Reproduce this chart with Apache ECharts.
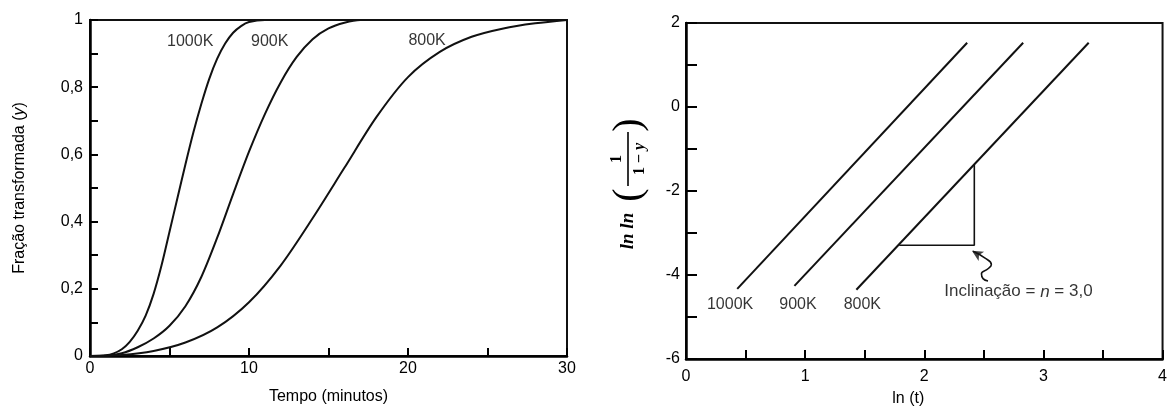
<!DOCTYPE html>
<html>
<head>
<meta charset="utf-8">
<script src="https://cdn.jsdelivr.net/npm/echarts@6/dist/echarts.min.js"></script>
<style>html,body{margin:0;padding:0;background:#fff;}#c{width:1170px;height:412px;}</style>
</head>
<body>
<div id="c"></div>
<script>
// ---- Left chart: fraction transformed vs time ----
var t1000 = [0,1,1.5,2,2.5,3,3.5,4,4.5,5,5.5,6,6.5,7,7.5,8,8.5,9,9.5,10,11,30];
var y1000 = [0,0.002,0.008,0.02,0.042,0.075,0.12,0.185,0.27,0.37,0.47,0.57,0.665,0.75,0.825,0.885,0.93,0.962,0.982,0.994,1.0,1.0];
var t900 = [0,1,2,3,4,5,6,7,8,9,10,11,12,13,14,15,16,17,30];
var y900 = [0,0.001,0.008,0.026,0.052,0.09,0.148,0.235,0.352,0.482,0.608,0.72,0.815,0.89,0.943,0.975,0.992,1.0,1.0];
var t800 = [0,2,4,6,8,10,12,14,16,18,20,22,24,26,28,30];
var y800 = [0,0.003,0.015,0.04,0.085,0.16,0.27,0.41,0.56,0.71,0.83,0.905,0.95,0.975,0.99,1.0];
var leftLabelText = ['1000K','900K','800K'];
var leftLabelT = [6.3, 11.3, 21.2];
var leftLabelY = [0.937, 0.937, 0.94];
var leftXTicks = ['0','10','20','30'];
var leftYTicks = ['0','0,2','0,4','0,6','0,8','1'];

// ---- Right chart: ln ln(1/(1-y)) vs ln t ----
var lnT1000 = [0.43, 2.36], v1000 = [-4.33, 1.53];
var lnT900 = [0.91, 2.83], v900 = [-4.26, 1.53];
var lnT800 = [1.43, 3.38], v800 = [-4.35, 1.53];
var triLnT = [2.42, 2.42, 1.79];
var triV = [-1.38, -3.29, -3.29];
var arrowLnT = [2.535, 2.493, 2.480, 2.535, 2.563, 2.507, 2.409];
var arrowV = [-4.141, -4.087, -3.969, -3.852, -3.748, -3.593, -3.435];
var arrowHead = [2.40, -3.42];
var rightLabelText = ['1000K','900K','800K'];
var rightLabelT = [0.37, 0.94, 1.48];
var rightLabelV = [-4.71, -4.71, -4.71];
var slopeLabelPos = [2.79, -4.40];
var rightXTicks = ['0','1','2','3','4'];
var rightYTicks = ['-6','-4','-2','0','2'];

function pairs(xs, ys){ return xs.map(function(x,i){ return [x, ys[i]]; }); }
function labelsData(txt, xs, ys){ return txt.map(function(t,i){ return {name:t, value:[xs[i], ys[i]]}; }); }

var FONT = '"Liberation Sans", Arial, sans-serif';
var INK = '#000';

function axisCommon(extra){
  var a = {
    type:'value',
    axisLine:{show:true, onZero:false, lineStyle:{color:INK, width:2.5}},
    axisTick:{show:true, inside:true, length:8, lineStyle:{color:INK, width:2}},
    minorTick:{show:true, splitNumber:2, length:8, lineStyle:{color:INK, width:2}},
    splitLine:{show:false},
    minorSplitLine:{show:false},
    axisLabel:{color:INK, fontSize:16, fontFamily:FONT},
    nameTextStyle:{color:INK, fontSize:16, fontFamily:FONT}
  };
  for (var k in extra){
    if (typeof extra[k] === 'object' && a[k] && !Array.isArray(extra[k])) {
      for (var j in extra[k]) a[k][j] = extra[k][j];
    } else a[k] = extra[k];
  }
  return a;
}

var lineStyleCurve = {color:'#111', width:2};

var option = {
  animation:false,
  backgroundColor:'#fff',
  grid:[
    {left:90, top:20, width:477, height:336, show:true, borderColor:'#111', borderWidth:2, containLabel:false},
    {left:686, top:23, width:477, height:339, show:true, borderColor:'#111', borderWidth:2, containLabel:false}
  ],
  xAxis:[
    axisCommon({gridIndex:0, min:0, max:30, interval:10,
      axisLabel:{margin:5, formatter:function(v){ return leftXTicks[Math.round(v/10)]; }},
      name:'Tempo (minutos)', nameLocation:'middle', nameGap:33}),
    axisCommon({gridIndex:1, min:0, max:4, interval:1,
      axisTick:{length:9}, minorTick:{length:9},
      axisLabel:{margin:10, formatter:function(v){ return rightXTicks[Math.round(v)]; }},
      name:'ln (t)', nameLocation:'middle', nameGap:32,
      nameTextStyle:{padding:[0,32,0,0]}})
  ],
  yAxis:[
    axisCommon({gridIndex:0, min:0, max:1, interval:0.2,
      axisLabel:{margin:7, formatter:function(v){ return leftYTicks[Math.round(v*5)]; }},
      name:'Fração transformada ({i|y})', nameLocation:'middle', nameGap:62,
      nameTextStyle:{rich:{i:{fontStyle:'italic', fontSize:16, fontFamily:FONT, color:INK}}}}),
    axisCommon({gridIndex:1, min:-6, max:2, interval:2,
      axisTick:{length:11}, minorTick:{length:11},
      axisLabel:{margin:6, formatter:function(v){ return rightYTicks[Math.round((v+6)/2)]; }}})
  ],
  series:[
    {type:'line', xAxisIndex:0, yAxisIndex:0, data:pairs(t1000,y1000), smooth:0.3, symbol:'none', lineStyle:lineStyleCurve, silent:true},
    {type:'line', xAxisIndex:0, yAxisIndex:0, data:pairs(t900,y900), smooth:0.3, symbol:'none', lineStyle:lineStyleCurve, silent:true},
    {type:'line', xAxisIndex:0, yAxisIndex:0, data:pairs(t800,y800), smooth:0.3, symbol:'none', lineStyle:lineStyleCurve, silent:true},
    {type:'scatter', xAxisIndex:0, yAxisIndex:0, data:labelsData(leftLabelText,leftLabelT,leftLabelY), symbolSize:1,
      itemStyle:{color:'rgba(0,0,0,0)'}, silent:true,
      label:{show:true, position:'inside', formatter:'{b}', color:INK, fontSize:16, fontFamily:FONT}},

    {type:'line', xAxisIndex:1, yAxisIndex:1, data:pairs(lnT1000,v1000), symbol:'none', lineStyle:lineStyleCurve, silent:true},
    {type:'line', xAxisIndex:1, yAxisIndex:1, data:pairs(lnT900,v900), symbol:'none', lineStyle:lineStyleCurve, silent:true},
    {type:'line', xAxisIndex:1, yAxisIndex:1, data:pairs(lnT800,v800), symbol:'none', lineStyle:lineStyleCurve, silent:true},
    {type:'line', xAxisIndex:1, yAxisIndex:1, data:pairs(triLnT,triV), symbol:'none', lineStyle:{color:'#111', width:1.6}, silent:true},
    {type:'line', xAxisIndex:1, yAxisIndex:1, data:pairs(arrowLnT,arrowV), symbol:'none', smooth:0.5, lineStyle:{color:'#111', width:1.6}, silent:true},
    {type:'scatter', xAxisIndex:1, yAxisIndex:1, data:[arrowHead], symbol:'arrow', symbolSize:[8,11], symbolRotate:59,
      itemStyle:{color:'#111'}, silent:true},
    {type:'scatter', xAxisIndex:1, yAxisIndex:1, data:labelsData(rightLabelText,rightLabelT,rightLabelV), symbolSize:1,
      itemStyle:{color:'rgba(0,0,0,0)'}, silent:true,
      label:{show:true, position:'inside', formatter:'{b}', color:INK, fontSize:16, fontFamily:FONT}},
    {type:'scatter', xAxisIndex:1, yAxisIndex:1, data:[{name:'slope', value:slopeLabelPos}], symbolSize:1,
      itemStyle:{color:'rgba(0,0,0,0)'}, silent:true,
      label:{show:true, position:'inside', formatter:'Inclinação = {i|n} = 3,0', color:INK, fontSize:17, fontFamily:FONT,
        rich:{i:{fontStyle:'italic', fontSize:17, fontFamily:FONT, color:INK}}}}
  ],
  graphic:[
    {type:'group', x:628, y:190, rotation:Math.PI/2, silent:true, children:[
      {type:'text', x:-41, y:0, style:{text:'ln ln', font:'italic bold 19px "Liberation Serif", serif', fill:INK, align:'center', verticalAlign:'middle'}},
      {type:'text', x:-5, y:1, style:{text:'(', font:'40px "Liberation Serif", serif', fill:INK, align:'center', verticalAlign:'middle'}},
      {type:'text', x:31, y:-11, style:{text:'1', font:'bold 16px "Liberation Serif", serif', fill:INK, align:'center', verticalAlign:'middle'}},
      {type:'line', shape:{x1:4, y1:0, x2:58, y2:0}, style:{stroke:INK, lineWidth:1.6}},
      {type:'text', x:31, y:12, style:{text:'1 − {i|y}', font:'bold 16px "Liberation Serif", serif', fill:INK, align:'center', verticalAlign:'middle',
        rich:{i:{font:'italic bold 16px "Liberation Serif", serif', fill:INK}}}},
      {type:'text', x:65, y:1, style:{text:')', font:'40px "Liberation Serif", serif', fill:INK, align:'center', verticalAlign:'middle'}}
    ]}
  ]
};

var chart = echarts.init(document.getElementById('c'), null, {renderer:'canvas'});
chart.setOption(option);
</script>
</body>
</html>
